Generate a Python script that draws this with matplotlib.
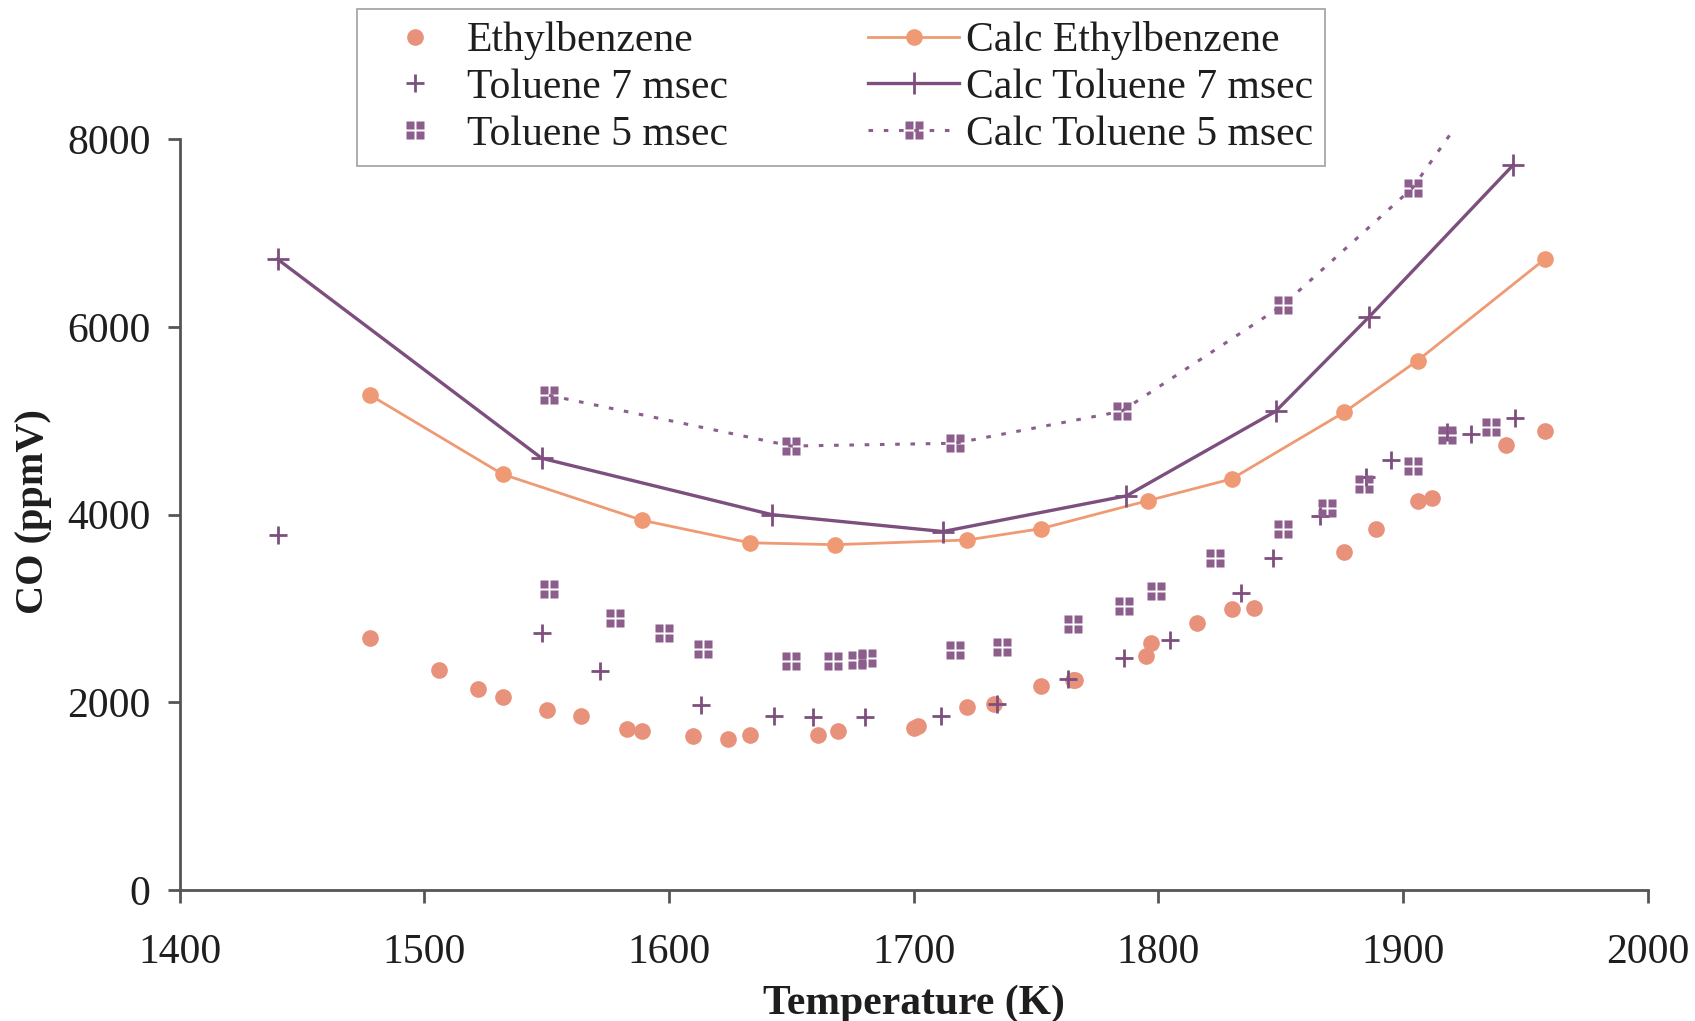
import matplotlib.pyplot as plt
import numpy as np
from matplotlib.path import Path

plt.rcParams["font.family"] = ["Liberation Serif", "DejaVu Serif"]

# measured points
eth_T = [1478, 1506, 1522, 1532, 1550, 1564, 1583, 1589, 1610, 1624, 1633, 1661, 1669,
         1700, 1702, 1722, 1733, 1752, 1765, 1766, 1795, 1797, 1816, 1830, 1839, 1876,
         1889, 1906, 1912, 1942, 1958]
eth_CO = [2690, 2350, 2140, 2060, 1920, 1860, 1720, 1700, 1640, 1610, 1650, 1650, 1700,
          1730, 1750, 1950, 1980, 2170, 2240, 2240, 2500, 2630, 2850, 3000, 3010, 3600,
          3850, 4150, 4180, 4740, 4890]

tol7_T = [1440, 1548, 1572, 1613, 1643, 1659, 1680, 1711, 1734, 1763, 1786, 1805, 1834,
          1847, 1866, 1885, 1895, 1918, 1928, 1946]
tol7_CO = [3780, 2740, 2330, 1970, 1860, 1840, 1850, 1860, 1980, 2250, 2470, 2660, 3170,
           3540, 3990, 4400, 4580, 4880, 4860, 5030]

tol5_T = [1551, 1578, 1598, 1614, 1650, 1667, 1677, 1681, 1717, 1736, 1765, 1786, 1799,
          1823, 1851, 1869, 1884, 1904, 1918, 1936]
tol5_CO = [3210, 2900, 2740, 2570, 2440, 2440, 2450, 2470, 2560, 2590, 2840, 3030, 3190,
           3540, 3850, 4070, 4330, 4520, 4850, 4930]

# calculated curves
calc_eth_T = [1478, 1532, 1589, 1633, 1668, 1722, 1752, 1796, 1830, 1876, 1906, 1958]
calc_eth_CO = [5270, 4430, 3940, 3700, 3680, 3730, 3850, 4150, 4380, 5090, 5640, 6720]

calc_tol7_T = [1440, 1548, 1642, 1712, 1787, 1848, 1886, 1945]
calc_tol7_CO = [6720, 4600, 4000, 3820, 4200, 5100, 6100, 7720]

calc_tol5_T = [1551, 1650, 1717, 1785, 1851, 1904, 1945]
calc_tol5_CO = [5270, 4730, 4760, 5100, 6230, 7480, 9000]

c_eth = "#E8917B"
c_eth_line = "#EF9A74"
c_tol = "#7C4F7E"
c_tol5 = "#8C5E8C"
c_txt = "#1E1E1E"

# four small squares marker
v, codes = [], []
for cx in (-0.55, 0.55):
    for cy in (-0.55, 0.55):
        sq = [(cx - 0.42, cy - 0.42), (cx + 0.42, cy - 0.42), (cx + 0.42, cy + 0.42),
              (cx - 0.42, cy + 0.42), (cx - 0.42, cy - 0.42)]
        v += sq
        codes += [Path.MOVETO, Path.LINETO, Path.LINETO, Path.LINETO, Path.CLOSEPOLY]
quad = Path(v, codes)

fig = plt.figure(figsize=(16.95, 10.21), dpi=100)
ax = fig.add_axes([0.106, 0.128, 0.866, 0.741])

h1, = ax.plot(eth_T, eth_CO, "o", color=c_eth, ms=12, mec="none", label="Ethylbenzene")
h2, = ax.plot(tol7_T, tol7_CO, "+", color=c_tol, ms=13, mew=2, label="Toluene 7 msec")
h3, = ax.plot(tol5_T, tol5_CO, ls="none", marker=quad, color=c_tol5, ms=13, mec="none",
              label="Toluene 5 msec")
h4, = ax.plot(calc_eth_T, calc_eth_CO, "-o", color=c_eth_line, lw=2, ms=12, mec="none",
              label="Calc Ethylbenzene")
h5, = ax.plot(calc_tol7_T, calc_tol7_CO, "-+", color=c_tol, lw=2.4, ms=16, mew=2,
              label="Calc Toluene 7 msec")
h6, = ax.plot(calc_tol5_T, calc_tol5_CO, ls=(0, (1.5, 3.5)), lw=2.2, marker=quad,
              color=c_tol5, ms=13, mec="none", label="Calc Toluene 5 msec")

ax.set_xlim(1400, 2000)
ax.set_ylim(0, 8055)
ax.set_xticks(np.arange(1400, 2001, 100))
ax.set_yticks(np.arange(0, 8001, 2000))
ax.spines["top"].set_visible(False)
ax.spines["right"].set_visible(False)
ax.spines["left"].set_bounds(0, 8000)
for s in ("left", "bottom"):
    ax.spines[s].set_linewidth(2)
    ax.spines[s].set_color("#555555")
ax.tick_params(direction="out", length=9, width=2, color="#555555",
               labelsize=30, labelcolor=c_txt)
ax.tick_params(axis="y", pad=12)
ax.tick_params(axis="x", pad=22)

ax.set_xlabel("Temperature (K)", fontsize=30, fontweight="bold", color=c_txt, labelpad=9)
ax.set_ylabel("CO (ppmV)", fontsize=29, fontweight="bold", color=c_txt, labelpad=11)

leg = fig.legend(handles=[h1, h2, h3, h4, h5, h6], ncol=2, loc="upper left",
                 bbox_to_anchor=(0.2105, 0.9915), fontsize=30, frameon=True,
                 fancybox=False, edgecolor="#888888", handlelength=2.2,
                 columnspacing=3.35, labelspacing=0.2, borderpad=0.3,
                 handletextpad=0.15, borderaxespad=0)
leg.get_frame().set_linewidth(1.2)
for t in leg.get_texts():
    t.set_color(c_txt)

fig.savefig("out.png", dpi=100)
